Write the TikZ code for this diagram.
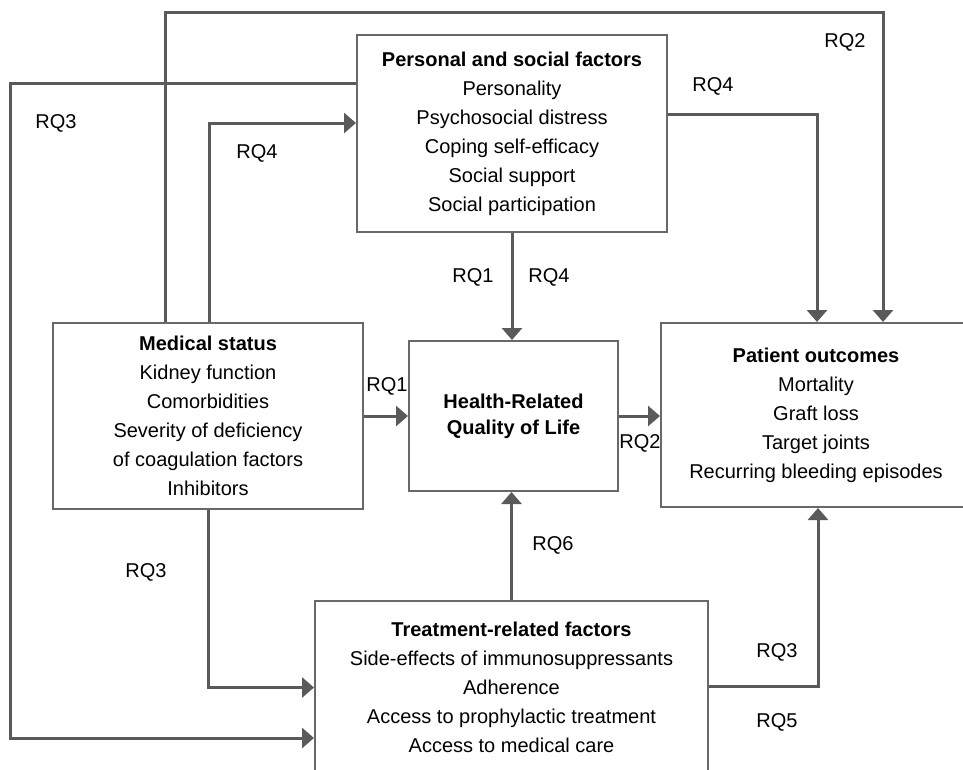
\documentclass[tikz,border=0pt]{standalone}
\usepackage{fontspec}
\setmainfont{Liberation Sans}
\usetikzlibrary{arrows.meta}
\definecolor{lineGray}{RGB}{90,90,90}
\definecolor{boxGray}{RGB}{105,105,105}

\begin{document}
\begin{tikzpicture}[x=1pt,y=-1pt]
\tikzstyle{box} = [draw=boxGray, line width=2pt, fill=white, align=center, inner sep=0pt, font=\fontsize{20}{29}\selectfont]
\tikzstyle{lbl} = [inner sep=0pt, font=\fontsize{20}{24}\selectfont]
\tikzstyle{arr} = [-{Triangle[length=12pt,width=20pt]}, lineGray, line width=3pt]
\useasboundingbox (0,0) rectangle (963,769);
\clip (0,0) rectangle (963,769);

% boxes
\node[box, minimum width=310pt, minimum height=197pt] (pers) at (512,133.5) {\textbf{Personal and social factors}\\Personality\\Psychosocial distress\\Coping self-efficacy\\Social support\\Social participation};
\node[box, minimum width=209pt, minimum height=150pt] (hrql) at (513.5,416) {\textbf{Health-Related}\\[-3pt]\textbf{Quality of Life}};
\node[box, minimum width=310pt, minimum height=186pt] (med) at (208,416) {\textbf{Medical status}\\Kidney function\\Comorbidities\\Severity of deficiency\\of coagulation factors\\Inhibitors};
\node[box, minimum width=310pt, minimum height=184pt] (pat) at (816,415) {\textbf{Patient outcomes}\\Mortality\\Graft loss\\Target joints\\Recurring bleeding episodes};
\node[box, minimum width=393pt, minimum height=173pt] (treat) at (511.5,687.5) {\textbf{Treatment-related factors}\\Side-effects of immunosuppressants\\Adherence\\Access to prophylactic treatment\\Access to medical care};

% corners
\coordinate (c1) at (883,12);
\coordinate (c2) at (10,738);

% connectors
\draw[arr] ([xshift=-43pt]med.north) |- (c1) -- (c1 |- pat.north);
\draw[arr] ([yshift=50.5pt]pers.west) -| (c2) -- (c2 -| treat.west);
\draw[arr] ([xshift=1pt]med.north) |- ([yshift=10.5pt]pers.west);
\draw[arr] ([yshift=19.5pt]pers.east) -| ([xshift=1pt]pat.north);
\draw[arr] (pers.south) -- (pers.south |- hrql.north);
\draw[arr] (med.east) -- (hrql.west);
\draw[arr] (hrql.east) -- (hrql.east -| pat.west);
\draw[arr] (treat.north) -- (treat.north |- hrql.south);
\draw[arr] (med.south) |- (treat.west);
\draw[arr] ([yshift=1.5pt]treat.east) -| ([xshift=2pt]pat.south);

% labels
\node[lbl] (rq2a) at (845,42) {RQ2};
\node[lbl] (rq3a) at (56,123) {RQ3};
\node[lbl] (rq4a) at (257,153) {RQ4};
\node[lbl] (rq4b) at (713,86) {RQ4};
\node[lbl] (rq1a) at (473,277) {RQ1};
\node[lbl] (rq4c) at (549,277) {RQ4};
\node[lbl] (rq1b) at (387,386) {RQ1};
\node[lbl] (rq2b) at (640,443) {RQ2};
\node[lbl] (rq6) at (553,545) {RQ6};
\node[lbl] (rq3b) at (146,572) {RQ3};
\node[lbl] (rq3c) at (777,652) {RQ3};
\node[lbl] (rq5) at (777,722) {RQ5};
\end{tikzpicture}
\end{document}
